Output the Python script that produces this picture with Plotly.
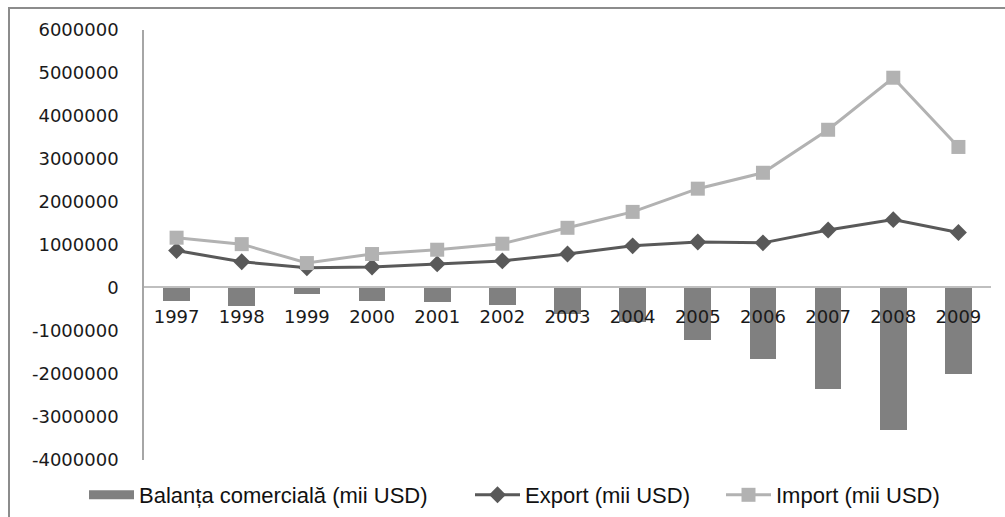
import plotly.graph_objects as go

years = ["1997", "1998", "1999", "2000", "2001", "2002", "2003",
         "2004", "2005", "2006", "2007", "2008", "2009"]
balanta = [-300000, -410000, -130000, -300000, -330000, -400000, -610000,
           -790000, -1220000, -1640000, -2340000, -3310000, -2000000]
export_ = [870000, 610000, 470000, 490000, 560000, 630000, 790000,
           980000, 1070000, 1050000, 1350000, 1590000, 1290000]
import_ = [1170000, 1020000, 580000, 790000, 890000, 1030000, 1400000,
           1770000, 2310000, 2680000, 3680000, 4890000, 3280000]
yticks = [6000000, 5000000, 4000000, 3000000, 2000000, 1000000, 0,
          -1000000, -2000000, -3000000, -4000000]

BAR_C, EXP_C, IMP_C = "#808080", "#595959", "#b2b2b2"

fig = go.Figure()
fig.add_trace(go.Bar(x=years, y=balanta, name="Balanța comercială (mii USD)",
                     marker=dict(color=BAR_C, line=dict(width=0)), width=0.41,
                     showlegend=False))
# legend proxy for the bar series (wide rectangle swatch)
fig.add_trace(go.Scatter(x=[None], y=[None], mode="lines", name="Balanța comercială (mii USD)",
                         line=dict(color=BAR_C, width=9), legend="legend"))
fig.add_trace(go.Scatter(x=years, y=export_, name="Export (mii USD)", mode="lines+markers",
                         line=dict(color=EXP_C, width=3),
                         marker=dict(symbol="diamond", size=13, color=EXP_C), legend="legend2"))
fig.add_trace(go.Scatter(x=years, y=import_, name="Import (mii USD)", mode="lines+markers",
                         line=dict(color=IMP_C, width=3),
                         marker=dict(symbol="square", size=14, color=IMP_C), legend="legend3"))

L, R, T, B = 144, 14, 30, 57
W, H = 1005, 517
pw, ph = W - L - R, H - T - B

def leg(xpx):
    return dict(orientation="h", xref="container", yref="container",
                x=xpx / W, xanchor="left", y=(H - 495) / H, yanchor="middle",
                font=dict(family="Liberation Sans", size=22, color="#111"),
                itemwidth=45, bgcolor="rgba(0,0,0,0)")

fig.update_layout(
    width=W, height=H,
    margin=dict(l=L, r=R, t=T, b=B, pad=0, autoexpand=False),
    paper_bgcolor="white", plot_bgcolor="white",
    showlegend=True,
    legend=leg(84), legend2=leg(470), legend3=leg(721),
    xaxis=dict(type="category", range=[-0.5, 12.5], anchor="free",
               position=(T + ph - 287) / ph, showline=True, linecolor="#bfbfbf", linewidth=1.5,
               showgrid=False, zeroline=False, ticks="", ticklabelstandoff=14,
               tickfont=dict(family="DejaVu Sans", size=18, color="#1a1a1a")),
    yaxis=dict(range=[-4000000, 6000000], tickvals=yticks,
               ticktext=[str(v) for v in yticks], showgrid=False,
               zeroline=False, showline=True, linecolor="#a6a6a6", linewidth=1.5,
               ticks="", ticklabelstandoff=20,
               tickfont=dict(family="DejaVu Sans", size=18, color="#1a1a1a")),
    bargap=0,
)

fig.add_shape(type="rect", xref="paper", yref="paper",
              x0=(9 - L) / pw, x1=(1012 - L) / pw,
              y0=(T + ph - 522) / ph, y1=(T + ph - 8) / ph,
              line=dict(color="#8c8c8c", width=2), fillcolor="rgba(0,0,0,0)", layer="below")

fig.write_html("out.html", config={"displayModeBar": False},
               post_script="document.body.style.margin='0';document.body.style.overflow='hidden';")
